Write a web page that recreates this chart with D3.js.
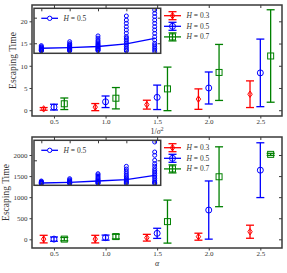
<!DOCTYPE html>
<html><head><meta charset="utf-8">
<script src="https://cdn.jsdelivr.net/npm/d3@7"></script>
<style>body{margin:0;background:#fff}svg{display:block}text{font-family:"Liberation Serif","DejaVu Serif",serif}</style>
</head><body>
<svg id="c" width="287" height="273"></svg>
<script>
// ---- data ----
const xTicks = [0.5, 1.0, 1.5, 2.0, 2.5];
const xTickLabels = ["0.5", "1.0", "1.5", "2.0", "2.5"];
const x03 = [0.4, 0.9, 1.4, 1.9, 2.4];
const x05 = [0.5, 1.0, 1.5, 2.0, 2.5];
const x07 = [0.6, 1.1, 1.6, 2.1, 2.6];
const seriesNames = ["H = 0.3", "H = 0.5", "H = 0.7"];

// top panel (vs 1/sigma^2)
const topYTicks = [0, 5, 10, 15, 20];
const topMean03 = [0.3, 0.7, 1.25, 2.5, 3.6];
const topErr03  = [0.3, 0.8, 1.0, 2.3, 3.0];
const topMean05 = [0.7, 1.9, 2.9, 5.0, 8.4];
const topErr05  = [0.65, 1.3, 2.75, 3.6, 7.6];
const topMean07 = [1.45, 2.7, 4.8, 8.5, 12.2];
const topErr07  = [1.3, 2.4, 4.9, 6.3, 10.4];

// bottom panel (vs alpha)
const botYTicks = [0, 500, 1000, 1500, 2000];
const botMean03 = [5, 5, 38, 62, 180];
const botErr03  = [90, 90, 80, 83, 155];
const botMean05 = [5, 40, 142, 694, 1640];
const botErr05  = [50, 60, 120, 690, 650];
const botMean07 = [5, 65, 420, 1484, 2015];
const botErr07  = [40, 55, 510, 710, 25];

// insets: H = 0.5 samples per column
const insetX = [0.5, 1.0, 1.5, 2.0, 2.5];
const topInsetYTicks = [5, 20];
const topInsetSamples = [
  [0.5, 0.7, 0.9, 1.1, 1.3, 1.6, 1.9, 2.2, 2.6, 3.0, 3.6],
  [0.5, 0.8, 1.1, 1.4, 1.7, 2.0, 2.4, 2.8, 3.2, 3.7, 4.2, 4.8, 5.9],
  [0.6, 1.0, 1.4, 1.8, 2.2, 2.7, 3.2, 3.8, 4.4, 5.1, 5.9, 6.8, 8.0, 9.3],
  [0.5, 1.2, 2.1, 3.1, 4.1, 5.0, 6.0, 7.0, 8.0, 8.9, 10.9, 12.8, 14.7, 16.7, 18.6, 21.0],
  [0.1, 1.05, 2.0, 3.0, 4.0, 5.0, 6.9, 8.8, 10.8, 12.8, 14.7, 16.7, 18.6, 20.6, 22.5, 24.5]
];
const topInsetLine = [2.05, 2.4, 3.1, 4.6, 7.9];
const botInsetYTicks = [2000];
const botInsetSamples = [
  [0, 20, 40, 60, 90, 120, 160, 216],
  [0, 30, 60, 100, 140, 190, 250, 320, 414],
  [0, 50, 100, 160, 230, 310, 400, 500, 620, 740, 845],
  [0, 80, 160, 250, 350, 460, 580, 720, 880, 1050, 1250, 1480],
  [0, 60, 129, 250, 414, 560, 707, 850, 991, 1130, 1280, 1500, 1710, 2000, 2431, 2715, 3577]
];
const botInsetLine = [43, 103, 216, 328, 707];

// ---- drawing ----
const svg = d3.select("#c");
const colors = ["#ff0000", "#0000ff", "#008000"];
const frameColor = "#3a3a3a";
const L = 32, R = 282;
const x = d3.scaleLinear().domain([0.287, 2.71]).range([L, R]);

function marker(g, type, cx, cy, color) {
  if (type === 0) {
    g.append("path").attr("d", `M${cx},${cy-3.2}L${cx+2.2},${cy}L${cx},${cy+3.2}L${cx-2.2},${cy}Z`)
      .attr("fill", "none").attr("stroke", color).attr("stroke-width", 1);
  } else if (type === 1) {
    g.append("circle").attr("cx", cx).attr("cy", cy).attr("r", 3)
      .attr("fill", "none").attr("stroke", color).attr("stroke-width", 1);
  } else {
    g.append("rect").attr("x", cx-3).attr("y", cy-3).attr("width", 6).attr("height", 6)
      .attr("fill", "none").attr("stroke", color).attr("stroke-width", 1);
  }
}

function panel(cfg) {
  const g = svg.append("g");
  const y = d3.scaleLinear().domain(cfg.yDomain).range([cfg.bottom, cfg.top]);
  const xs = [x03, x05, x07];
  // error bars
  cfg.means.forEach((m, si) => {
    m.forEach((v, i) => {
      const cx = x(xs[si][i]);
      const e = cfg.errs[si][i];
      const c = colors[si];
      g.append("line").attr("x1", cx).attr("x2", cx).attr("y1", y(v - e)).attr("y2", y(v + e))
        .attr("stroke", c).attr("stroke-width", 1.3);
      [v - e, v + e].forEach(t => g.append("line").attr("x1", cx - 4).attr("x2", cx + 4)
        .attr("y1", y(t)).attr("y2", y(t)).attr("stroke", c).attr("stroke-width", 1.3));
      marker(g, si, cx, y(v), c);
    });
  });
  // y axis (left, outward)
  const ya = d3.axisLeft(y).tickValues(cfg.yTicks).tickSize(2.5).tickPadding(2).tickFormat(d3.format("d"));
  const gy = g.append("g").attr("transform", `translate(${L},0)`).call(ya);
  const gyr = g.append("g").attr("transform", `translate(${R},0)`)
    .call(d3.axisRight(y).tickValues(cfg.yTicks).tickSize(-3).tickFormat(""));
  const xa = d3.axisBottom(x).tickValues(xTicks).tickSize(2.5).tickPadding(1).tickFormat((d, i) => xTickLabels[i]);
  const gx = g.append("g").attr("transform", `translate(0,${cfg.bottom})`).call(xa);
  const gxt = g.append("g").attr("transform", `translate(0,${cfg.top})`)
    .call(d3.axisTop(x).tickValues(xTicks).tickSize(-3).tickFormat(""));
  [gy, gyr, gx, gxt].forEach(a => {
    a.select(".domain").remove();
    a.selectAll("line").attr("stroke", frameColor).attr("stroke-width", 1);
    a.selectAll("text").attr("font-size", 7).attr("fill", "#333").attr("font-family", "Liberation Serif");
  });
  g.append("rect").attr("x", L).attr("y", cfg.top).attr("width", R - L).attr("height", cfg.bottom - cfg.top)
    .attr("fill", "none").attr("stroke", frameColor).attr("stroke-width", 1.5);

  // y label
  g.append("text").attr("transform", `translate(${cfg.yLabelX},${(cfg.top + cfg.bottom) / 2}) rotate(-90)`)
    .attr("text-anchor", "middle").attr("font-size", 9.5).attr("fill", "#333").text("Escaping Time");
  // x label
  const xl = g.append("text").attr("x", 157).attr("y", cfg.xLabelY).attr("text-anchor", "middle")
    .attr("font-size", 8).attr("fill", "#333");
  cfg.xLabel(xl);

  // legend
  const lx = 172.5, ly0 = cfg.top + 10.7;
  seriesNames.forEach((n, si) => {
    const ly = ly0 + si * 10.6, c = colors[si];
    g.append("line").attr("x1", lx - 8.5).attr("x2", lx + 8.5).attr("y1", ly).attr("y2", ly).attr("stroke", c).attr("stroke-width", 1.3);
    g.append("line").attr("x1", lx).attr("x2", lx).attr("y1", ly - 4).attr("y2", ly + 4).attr("stroke", c).attr("stroke-width", 1.3);
    [ly - 4, ly + 4].forEach(t => g.append("line").attr("x1", lx - 4).attr("x2", lx + 4).attr("y1", t).attr("y2", t).attr("stroke", c).attr("stroke-width", 1.3));
    marker(g, si, lx, ly, c);
    const t = g.append("text").attr("x", 186.5).attr("y", ly + 2.5).attr("font-size", 7.5).attr("fill", "#333");
    t.append("tspan").attr("font-style", "italic").text("H");
    t.append("tspan").text(" " + n.slice(2));
  });

  // inset
  const iL = 34, iR = 160.7, iT = cfg.top + 3.3, iB = cfg.top + 48.3;
  const ig = g.append("g");
  ig.append("rect").attr("x", iL).attr("y", iT).attr("width", iR - iL).attr("height", iB - iT).attr("fill", "#fff");
  const ix = d3.scaleLinear().domain([0.371, 2.606]).range([iL, iR]);
  const iy = d3.scaleLinear().domain(cfg.insetDomain).range([iB, iT]);
  const clipId = "clip" + cfg.top;
  ig.append("clipPath").attr("id", clipId).append("rect").attr("x", iL).attr("y", iT).attr("width", iR - iL).attr("height", iB - iT);
  const ic = ig.append("g").attr("clip-path", `url(#${clipId})`);
  cfg.insetSamples.forEach((col, i) => {
    col.forEach(v => ic.append("circle").attr("cx", ix(insetX[i])).attr("cy", iy(v)).attr("r", 2)
      .attr("fill", "none").attr("stroke", "#0000ff").attr("stroke-width", 1));
  });
  ic.append("path").attr("d", d3.line().x((d, i) => ix(insetX[i])).y(d => iy(d))(cfg.insetLine))
    .attr("fill", "none").attr("stroke", "#0000ff").attr("stroke-width", 1.3);
  // inset ticks (inward)
  [[d3.axisTop(ix), iT], [d3.axisBottom(ix), iB]].forEach(([a, pos]) => {
    const t = ig.append("g").attr("transform", `translate(0,${pos})`).call(a.tickValues(insetX).tickSize(-3).tickFormat(""));
    t.select(".domain").remove(); t.selectAll("line").attr("stroke", frameColor);
  });
  [[d3.axisLeft(iy), iL], [d3.axisRight(iy), iR]].forEach(([a, pos]) => {
    const t = ig.append("g").attr("transform", `translate(${pos},0)`).call(a.tickValues(cfg.insetYTicks).tickSize(-3).tickFormat(""));
    t.select(".domain").remove(); t.selectAll("line").attr("stroke", frameColor);
  });
  ig.append("rect").attr("x", iL).attr("y", iT).attr("width", iR - iL).attr("height", iB - iT)
    .attr("fill", "none").attr("stroke", frameColor).attr("stroke-width", 1.5);
  // inset legend
  const ily = iT + 10;
  ig.append("line").attr("x1", 41.3).attr("x2", 58).attr("y1", ily).attr("y2", ily).attr("stroke", "#0000ff").attr("stroke-width", 1.3);
  ig.append("circle").attr("cx", 49.7).attr("cy", ily).attr("r", 2.2).attr("fill", "#fff").attr("stroke", "#0000ff").attr("stroke-width", 1);
  const it = ig.append("text").attr("x", 63.5).attr("y", ily + 2.5).attr("font-size", 7.5).attr("fill", "#333");
  it.append("tspan").attr("font-style", "italic").text("H");
  it.append("tspan").text(" = 0.5");
}

panel({
  top: 5, bottom: 116, yDomain: [-1.3, 23.67], yTicks: topYTicks, yLabelX: 16,
  means: [topMean03, topMean05, topMean07], errs: [topErr03, topErr05, topErr07],
  xLabelY: 134,
  xLabel: t => { t.append("tspan").text("1/"); t.append("tspan").attr("font-style", "italic").text("σ");
                 t.append("tspan").attr("dy", -3).attr("font-size", 5.5).text("2"); },
  insetDomain: [-0.9, 25.5], insetYTicks: topInsetYTicks, insetSamples: topInsetSamples, insetLine: topInsetLine
});
panel({
  top: 137, bottom: 248, yDomain: [-206, 2427], yTicks: botYTicks, yLabelX: 9,
  means: [botMean03, botMean05, botMean07], errs: [botErr03, botErr05, botErr07],
  xLabelY: 266,
  xLabel: t => { t.append("tspan").attr("font-style", "italic").text("α"); },
  insetDomain: [-155, 3724], insetYTicks: botInsetYTicks, insetSamples: botInsetSamples, insetLine: botInsetLine
});
</script>
</body></html>
